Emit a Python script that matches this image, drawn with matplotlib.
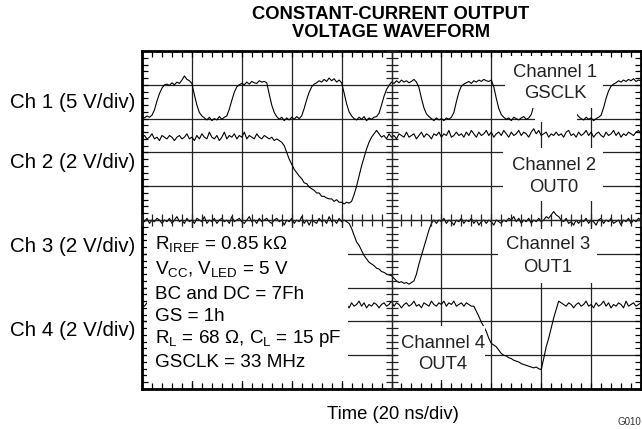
import numpy as np
import matplotlib
matplotlib.use('Agg')
from matplotlib import pyplot as plt
from matplotlib.patches import Rectangle
from matplotlib.ticker import MultipleLocator

plt.rcParams['font.family'] = ['Liberation Sans', 'DejaVu Sans']

# scope record: 10 div at 20 ns/div, one sample per ns
time_ns = np.arange(0, 201)

# Ch 1, GSCLK (V)
ch1_volts = [
    0.3, 0.1, 0.4, 0.2,
    0.5, 1.3, 2.6, 3.7, 4.5, 5.0,
    5.1, 4.9, 5.3, 5.0, 5.4, 5.2, 5.7, 6.3, 5.8, 5.6,
    5.2, 3.5, 2.0, 0.9, 0.4,
    0.1, -0.2, 0.2, -0.3, 0.0, -0.2, 0.3, -0.1, 0.2,
    0.4, 1.4, 2.7, 3.9, 4.7, 5.0,
    5.2, 5.0, 5.4, 5.1, 5.5, 5.3, 5.2, 5.6, 5.4, 5.5,
    5.3, 3.6, 2.0, 0.9, 0.3,
    -0.1, 0.2, -0.3, 0.1, -0.2, 0.2, -0.1, 0.3, 0.0,
    0.4, 1.5, 2.8, 3.9, 4.7, 5.1,
    5.3, 5.6, 5.4, 5.8, 5.5, 6.0, 5.6, 5.9, 5.4, 5.7, 5.3,
    3.8, 2.2, 1.0, 0.4,
    0.0, -0.2, 0.2, -0.1, 0.3, -0.3, 0.1, -0.1, 0.2, 0.3,
    0.8, 2.0, 3.3, 4.3, 4.9,
    5.4, 5.2, 5.6, 5.3, 5.7, 5.4, 5.6, 5.3, 5.5, 5.8, 5.4,
    4.6, 3.0, 1.6, 0.7, 0.3,
    0.0, -0.3, 0.1, -0.2, 0.0, -0.3, 0.1, -0.1, 0.2,
    0.9, 2.5, 3.9, 4.8, 5.1,
    5.3, 5.5, 5.2, 5.6, 5.4, 5.7, 5.5, 5.8, 5.6, 5.5, 5.7,
    4.7, 3.0, 1.5, 0.6,
    0.2, -0.1, 0.1, -0.3, 0.2, 0.0, -0.2, 0.1, 0.3, -0.1, 0.1,
    0.6, 1.9, 3.3, 4.4, 5.0,
    5.3, 5.5, 5.2, 5.6, 5.4, 5.5, 5.3, 5.6, 5.4, 5.7,
    5.0, 3.4, 1.8, 0.8, 0.3,
    0.0, -0.2, 0.2, -0.1, 0.1, -0.3, 0.0, 0.2,
    0.5, 1.6, 3.0, 4.1, 4.8, 5.1,
    5.3, 5.6, 5.4, 5.7, 5.5, 5.8, 5.6, 5.9, 5.5, 5.7, 5.6,
]

# Ch 2, OUT0 (V)
ch2_volts = [
    4.9, 5.0, 4.8, 4.9, 5.1, 4.8, 4.9, 4.7, 5.0, 4.9,
    4.8, 5.0, 4.9, 4.7, 4.9, 5.0, 4.8, 4.9, 5.1, 4.8,
    4.9, 4.7, 5.0, 4.8, 5.1, 4.9, 4.8, 5.2, 4.9, 4.8,
    5.0, 4.7, 4.9, 5.2, 4.8, 5.0, 4.9, 5.1, 4.8, 5.0,
    4.9, 5.2, 4.8, 5.0, 4.9, 4.8, 5.1, 4.9, 4.8, 5.0,
    4.9, 4.8, 4.9, 4.7, 4.8, 4.7,
    4.6, 4.4, 4.0, 3.6, 3.3, 3.0, 2.8, 2.6, 2.45, 2.2,
    2.15, 1.95, 1.85, 1.75, 1.6, 1.6, 1.4, 1.4, 1.3, 1.25,
    1.25, 1.1, 1.2, 1.05, 1.05, 0.95, 1.05, 1.0, 1.1, 1.5,
    2.0, 2.6, 3.2, 3.7, 4.2, 4.6, 4.9, 5.1, 5.3, 5.1, 4.9,
    5.0, 4.8, 5.1, 4.9, 5.0, 4.8, 5.1, 5.0, 4.9, 5.2,
    4.9, 5.0, 5.1, 4.8, 5.0, 5.2, 4.9, 5.1, 5.0, 4.8,
    5.1, 5.0, 5.2, 4.9, 5.1, 5.0, 5.3, 4.9, 5.0, 5.2,
    5.0, 5.1, 4.9, 5.2, 5.0, 5.3, 5.1, 4.9, 5.2, 5.0,
    5.1, 5.3, 5.0, 5.2, 4.9, 5.1, 5.2, 5.0, 5.3, 5.1,
    4.9, 5.2, 5.0, 5.1, 5.3, 5.0, 5.2, 5.1, 4.9, 5.2,
    5.4, 5.1, 5.3, 5.0, 5.1, 5.2, 4.9, 5.1, 5.0, 5.2,
    5.0, 5.1, 4.9, 5.2, 5.3, 5.0, 5.1, 4.9, 5.2, 5.0,
    5.1, 5.3, 5.0, 5.2, 4.9, 5.1, 5.2, 5.0, 4.9, 5.2,
    5.0, 5.1, 5.3, 5.0, 5.2, 4.9, 5.1, 5.0, 5.2, 5.1,
    5.0, 5.2, 5.3, 5.1,
]

# Ch 3, OUT1 (V)
ch3_volts = [
    5.0, 4.9, 5.1, 4.8, 5.0, 4.9, 5.1, 5.0, 4.8, 5.0,
    4.9, 5.1, 4.8, 5.0, 5.2, 4.9, 5.0, 4.8, 5.1, 4.9,
    5.0, 4.8, 5.1, 5.0, 4.9, 5.2, 4.8, 5.0, 4.9, 5.1,
    4.8, 5.0, 5.1, 4.9, 5.0, 4.8, 5.2, 4.9, 5.0, 5.1,
    4.9, 4.8, 5.0, 5.2, 4.9, 5.0, 4.8, 5.1, 4.9, 5.0,
    5.1, 4.9, 4.8, 5.0, 5.1, 4.9, 5.0, 4.7, 5.0, 4.9,
    5.1, 4.8, 5.0, 4.9, 5.2, 4.8, 5.0, 4.7, 5.0, 4.9,
    4.8, 5.1, 4.9, 5.0, 4.8, 5.2, 4.9, 5.0, 4.8, 5.1,
    4.9, 5.0, 4.9,
    4.8, 4.5, 4.1, 3.7, 3.5, 3.2, 2.9, 2.7, 2.5, 2.4,
    2.3, 2.15, 2.1, 1.95, 1.9, 1.8, 1.75, 1.7, 1.55, 1.4,
    1.3, 1.35, 1.25, 1.3, 1.2, 1.3, 1.4, 1.8, 2.4, 2.9,
    3.4, 3.9, 4.4, 4.8, 5.0,
    4.8, 5.0, 4.9, 5.1, 4.8, 5.0, 4.9, 4.7, 5.0, 4.9,
    5.1, 4.8, 5.0, 4.9, 5.1, 4.8, 5.0, 4.7, 4.9, 5.0,
    4.8, 5.0, 4.9, 4.7, 5.0, 4.9, 4.8, 5.0, 4.9, 5.1,
    5.0, 5.2, 4.9, 5.1, 4.8, 5.0, 4.9, 5.1, 4.8, 5.0,
    4.9, 5.1, 4.9, 5.0, 5.2, 5.1, 5.3, 5.5, 5.3, 5.2,
    5.0, 4.9, 5.1, 4.8, 4.9, 4.7, 5.0, 4.8, 5.0, 4.9,
    5.1, 4.8, 5.0, 4.9, 4.7, 5.0, 5.1, 4.8, 5.0, 4.9,
    5.1, 4.8, 4.9, 5.0, 4.7, 5.0, 4.9, 5.1, 4.8, 5.0,
    4.9, 5.1, 5.0,
]

# Ch 4, OUT4 (V)
ch4_volts = [
    5.0, 4.9, 5.1, 4.8, 5.0, 5.1, 4.9, 5.0, 4.8, 5.1,
    4.9, 5.0, 5.2, 4.9, 5.0, 4.8, 5.1, 5.0, 4.9, 5.1,
    5.0, 4.8, 5.0, 5.1, 4.9, 5.0, 5.2, 4.9, 5.0, 4.8,
    5.1, 4.9, 5.0, 5.1, 4.8, 5.0, 4.9, 5.1, 5.0, 4.9,
    5.0, 5.2, 4.9, 5.0, 4.8, 5.1, 4.9, 5.0, 5.1, 4.9,
    5.0, 4.8, 5.1, 5.0, 4.9, 5.1, 5.0, 4.8, 5.0, 4.9,
    5.1, 5.0, 4.9, 5.2, 4.9, 5.0, 4.8, 5.1, 4.9, 5.0,
    5.1, 4.9, 5.0, 4.8, 5.1, 5.0, 4.9, 5.1, 4.8, 5.0,
    4.9, 5.1, 5.0, 4.8, 5.1, 4.9, 5.0, 5.2, 4.9, 5.1,
    4.8, 5.0, 4.9, 5.1, 5.0, 4.8, 5.0, 5.1, 4.9, 5.0,
    5.2, 4.9, 5.1, 5.0, 4.8, 5.0, 5.1, 4.9, 5.0, 5.2,
    4.9, 5.0, 4.8, 5.1, 5.0, 4.9, 5.2, 5.0, 4.9, 5.1,
    5.0, 5.2, 4.9, 5.1, 5.0, 5.2, 4.9, 5.0, 5.1, 4.9,
    5.1, 5.0, 4.9,
    4.9, 4.6, 4.3, 3.95, 3.7, 3.4, 3.0, 2.7, 2.6, 2.5,
    2.3, 2.1, 2.0, 1.95, 1.85, 1.8, 1.7, 1.65, 1.6, 1.5,
    1.45, 1.4, 1.35, 1.3, 1.25, 1.3, 1.2, 1.15, 1.8, 2.5,
    3.0, 3.6, 4.2, 4.7, 5.2, 5.1,
    5.0, 4.9, 5.1, 5.0, 4.8, 5.0, 5.1, 4.9, 5.0, 5.2,
    4.9, 5.0, 4.8, 5.1, 4.9, 5.0, 5.2, 4.9, 5.1, 4.8,
    5.0, 4.9, 5.1, 5.0, 4.8, 5.2, 4.9, 5.0, 5.1, 4.9,
    5.0, 5.1,
]

channel_volts = [ch1_volts, ch2_volts, ch3_volts, ch4_volts]
channel_scale = [5, 2, 2, 2]  # V/div
channel_names = ['Ch 1 (5 V/div)', 'Ch 2 (2 V/div)', 'Ch 3 (2 V/div)', 'Ch 4 (2 V/div)']
trace_labels = [('Channel 1', 'GSCLK'), ('Channel 2', 'OUT0'),
                ('Channel 3', 'OUT1'), ('Channel 4', 'OUT4')]
conditions = [
    r'R$\mathregular{_{IREF}}$ = 0.85 kΩ',
    r'V$\mathregular{_{CC}}$, V$\mathregular{_{LED}}$ = 5 V',
    'BC and DC = 7Fh',
    'GS = 1h',
    r'R$\mathregular{_{L}}$ = 68 Ω, C$\mathregular{_{L}}$ = 15 pF',
    'GSCLK = 33 MHz',
]

# ---- layout (pixel positions of the reference) ----
W, H = 642, 429
left, top, right, bottom = 142, 51, 641, 389
ground_div = [8.0, 5.0, 2.5, 0.0]
FS = 13.6


def X(px):
    return (px - left) * 200.0 / (right - left)


def Y(py):
    return (bottom - py) * 10.0 / (bottom - top)


fig = plt.figure(figsize=(W / 100, H / 100), dpi=100)
rect = [left / W, (H - bottom) / H, (right - left) / W, (bottom - top) / H]
ax = fig.add_axes(rect)
ax.set_xlim(0, 200)
ax.set_ylim(0, 10)
ax.xaxis.set_major_locator(MultipleLocator(20))
ax.xaxis.set_minor_locator(MultipleLocator(4))
ax.yaxis.set_major_locator(MultipleLocator(1))
ax.yaxis.set_minor_locator(MultipleLocator(0.2))
ax.tick_params(which='both', direction='in', top=True, right=True, length=4.5, width=0.9,
               labelbottom=False, labelleft=False)
ax.grid(True, which='major', color='#222222', lw=0.9)
ax.set_axisbelow(True)
for s in ax.spines.values():
    s.set_linewidth(2)

for volts, scale, ground in zip(channel_volts, channel_scale, ground_div):
    ax.plot(time_ns, ground + np.array(volts) / scale, color='black', lw=0.8, zorder=2)

# white areas behind the annotations
boxes = [(147, 228, 348, 381), (505, 56, 603, 108), (535, 108, 577, 122),
         (503, 148, 603, 201), (498, 229, 597, 283), (396, 326, 485, 380)]
for x0, y0, x1, y1 in boxes:
    ax.add_patch(Rectangle((X(x0), Y(y1)), X(x1) - X(x0), Y(y0) - Y(y1),
                           fc='white', ec='none', zorder=3))

# centre cross with its ticks
cx = fig.add_axes(rect, label='centre')
cx.set_xlim(0, 200)
cx.set_ylim(0, 10)
cx.patch.set_visible(False)
cx.spines['top'].set_visible(False)
cx.spines['right'].set_visible(False)
cx.spines['left'].set_position(('data', 100))
cx.spines['bottom'].set_position(('data', 5))
for s in ('left', 'bottom'):
    cx.spines[s].set_linewidth(0.9)
    cx.spines[s].set_color('#222222')
cx.xaxis.set_major_locator(MultipleLocator(20))
cx.xaxis.set_minor_locator(MultipleLocator(4))
cx.yaxis.set_major_locator(MultipleLocator(1))
cx.yaxis.set_minor_locator(MultipleLocator(0.2))
cx.tick_params(which='both', direction='inout', length=8, width=0.9, color='#222222',
               labelbottom=False, labelleft=False)

# test conditions
for txt, py in zip(conditions, [249, 274, 299, 321, 343, 367]):
    ax.text(X(155), Y(py), txt, fontsize=FS, va='baseline', zorder=4)

# channel labels inside the grid
label_pos = [(555, 77, 98.5), (554, 169.5, 191.5), (548, 248.5, 271.5), (443, 348, 369)]
for (l1, l2), (px, b1, b2) in zip(trace_labels, label_pos):
    ax.text(X(px), Y(b1), l1, fontsize=13.3, ha='center', va='baseline', color='#222222', zorder=4)
    ax.text(X(px), Y(b2), l2, fontsize=13.3, ha='center', va='baseline', color='#222222', zorder=4)

# channel scales on the left
for name, py in zip(channel_names, [107.5, 167.5, 252.5, 335.5]):
    fig.text(10 / W, 1 - py / H, name, fontsize=14.8, va='baseline')

fig.text(391 / W, 1 - 19 / H, 'CONSTANT-CURRENT OUTPUT', fontsize=13.2, fontweight='bold',
         ha='center', va='baseline')
fig.text(391 / W, 1 - 37 / H, 'VOLTAGE WAVEFORM', fontsize=13.2, fontweight='bold',
         ha='center', va='baseline')
fig.text(393 / W, 1 - 419 / H, 'Time (20 ns/div)', fontsize=13.3, ha='center', va='baseline')
fig.text(617 / W, 1 - 425 / H, 'G010', fontsize=7, va='baseline', color='#333333')

fig.savefig('out.png', dpi=100)
